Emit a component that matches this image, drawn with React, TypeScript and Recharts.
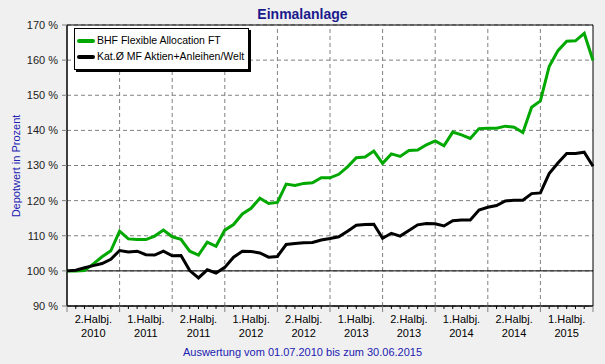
import React from "react";
import { LineChart, Line, XAxis, YAxis, CartesianGrid, ReferenceLine, ReferenceArea } from "recharts";

const title = "Einmalanlage";
const footnote = "Auswertung vom 01.07.2010 bis zum 30.06.2015";
const yAxisTitle = "Depotwert in Prozent";

const seriesNames = ["BHF Flexible Allocation FT", "Kat.Ø MF Aktien+Anleihen/Welt"];
const seriesColors = ["#00a800", "#000000"];

// monthly values, 01.07.2010 .. 30.06.2015 (61 points)
const bhfValues = [
  100.0, 100.0, 100.1, 102.0, 104.0, 105.7, 111.3, 109.1, 108.9, 108.9,
  109.9, 111.6, 109.7, 109.0, 105.6, 104.5, 108.2, 107.0, 111.6, 113.2,
  116.2, 117.8, 120.7, 119.2, 119.5, 124.7, 124.3, 124.9, 125.1, 126.5,
  126.5, 127.5, 129.6, 132.2, 132.4, 134.1, 130.6, 133.3, 132.6, 134.3,
  134.4, 135.9, 137.0, 135.6, 139.5, 138.7, 137.7, 140.5, 140.6, 140.6,
  141.2, 140.9, 139.4, 146.6, 148.4, 158.2, 162.7, 165.4, 165.5, 167.6,
  159.9,
];
const katValues = [
  100.0, 100.2, 100.9, 101.5, 102.1, 103.3, 105.8, 105.4, 105.6, 104.6,
  104.5, 105.6, 104.3, 104.4, 100.1, 98.0, 100.3, 99.4, 101.0, 103.9,
  105.6, 105.5, 105.1, 103.9, 104.1, 107.5, 107.8, 108.0, 108.1, 108.8,
  109.2, 109.7, 111.3, 113.0, 113.2, 113.3, 109.3, 110.7, 109.9, 111.5,
  113.1, 113.5, 113.4, 112.8, 114.3, 114.5, 114.5, 117.3, 118.1, 118.6,
  119.9, 120.1, 120.1, 122.0, 122.2, 127.7, 130.7, 133.4, 133.4, 133.8,
  129.8,
];

const halfYearLabels = [
  ["2.Halbj.", "2010"], ["1.Halbj.", "2011"], ["2.Halbj.", "2011"], ["1.Halbj.", "2012"],
  ["2.Halbj.", "2012"], ["1.Halbj.", "2013"], ["2.Halbj.", "2013"], ["1.Halbj.", "2014"],
  ["2.Halbj.", "2014"], ["1.Halbj.", "2015"],
];
const halfYearBounds = [6, 12, 18, 24, 30, 36, 42, 48, 54];
const yTicks = [90, 100, 110, 120, 130, 140, 150, 160, 170];

const data = bhfValues.map((v, i) => ({ m: i, bhf: v, kat: katValues[i] }));
const monthTicks = data.map((d) => d.m);

const FONT = "'Liberation Sans', Arial, sans-serif";

const XTick = (props: any) => {
  const { x, y, payload } = props;
  const v = payload.value as number;
  const major = v % 6 === 0;
  const labelIdx = (v - 3) / 6;
  const lbl = v % 6 === 3 ? halfYearLabels[labelIdx] : null;
  return (
    <g>
      <line x1={x} y1={y} x2={x} y2={y + (major ? 6 : 3)} stroke={major ? "#808080" : "#000"} strokeWidth={1} />
      {lbl && (
        <text x={x} y={y + 17} textAnchor="middle" fontSize={11} fontFamily={FONT} fill="#000">
          <tspan x={x} y={y + 17}>{lbl[0]}</tspan>
          <tspan x={x} y={y + 31}>{lbl[1]}</tspan>
        </text>
      )}
    </g>
  );
};

export default function App() {
  return (
    <div style={{ position: "relative", width: 605, height: 364, background: "#f0f0f0", fontFamily: FONT, overflow: "hidden" }}>
      <style>{`body{margin:0;}`}</style>
      <LineChart width={605} height={364} data={data} margin={{ top: 25, right: 12, bottom: 18, left: 0 }}>
        <CartesianGrid vertical={false} stroke="#808080" strokeDasharray="4 3" fill="#ffffff" />
        <XAxis
          dataKey="m"
          type="number"
          domain={[0, 60]}
          ticks={monthTicks}
          interval={0}
          height={40}
          tickSize={0}
          tickMargin={0}
          tickLine={false}
          axisLine={{ stroke: "#000" }}
          tick={<XTick />}
        />
        <YAxis
          domain={[90, 170]}
          ticks={yTicks}
          interval={0}
          width={67}
          tickSize={5}
          tickMargin={4}
          tickLine={{ stroke: "#808080" }}
          axisLine={{ stroke: "#000" }}
          tickFormatter={(v: number) => `${v} %`}
          tick={{ fontSize: 11, fill: "#222", fontFamily: FONT }}
        />
        {halfYearBounds.map((b) => (
          <ReferenceLine key={b} x={b} stroke="#808080" strokeDasharray="4 3" />
        ))}
        <ReferenceLine y={100} stroke="#000" strokeWidth={1} />
        <ReferenceArea x1={0} x2={60} y1={90} y2={170} fill="none" stroke="#000" strokeWidth={1} />
        <Line type="linear" dataKey="bhf" name={seriesNames[0]} stroke={seriesColors[0]} strokeWidth={3} dot={false} isAnimationActive={false} />
        <Line type="linear" dataKey="kat" name={seriesNames[1]} stroke={seriesColors[1]} strokeWidth={3} dot={false} isAnimationActive={false} />
      </LineChart>

      <div style={{ position: "absolute", left: 0, top: 6, width: 605, textAlign: "center", fontSize: 14, lineHeight: "16px", fontWeight: "bold", color: "#1a1a8c" }}>
        {title}
      </div>
      <div style={{ position: "absolute", left: 0, top: 346, width: 605, textAlign: "center", fontSize: 11, lineHeight: "13px", color: "#2020b0" }}>
        {footnote}
      </div>
      <div style={{ position: "absolute", left: 16, top: 165.5, transform: "translate(-50%, -50%) rotate(-90deg)", whiteSpace: "nowrap", fontSize: 11, lineHeight: "13px", color: "#2020b0" }}>
        {yAxisTitle}
      </div>

      <div style={{ position: "absolute", left: 74, top: 28, width: 173, height: 40, background: "#fff", border: "1px solid #000", boxShadow: "2px 2px 0 #000" }}>
        {seriesNames.map((n, i) => (
          <div key={n} style={{ position: "absolute", left: 2, top: 5 + i * 16, height: 13, display: "flex", alignItems: "center", whiteSpace: "nowrap" }}>
            <span style={{ display: "inline-block", width: 18, height: 4, borderRadius: 2, background: seriesColors[i], marginRight: 2 }} />
            <span style={{ fontSize: 10.5, lineHeight: "13px", color: "#000" }}>{n}</span>
          </div>
        ))}
      </div>
    </div>
  );
}
